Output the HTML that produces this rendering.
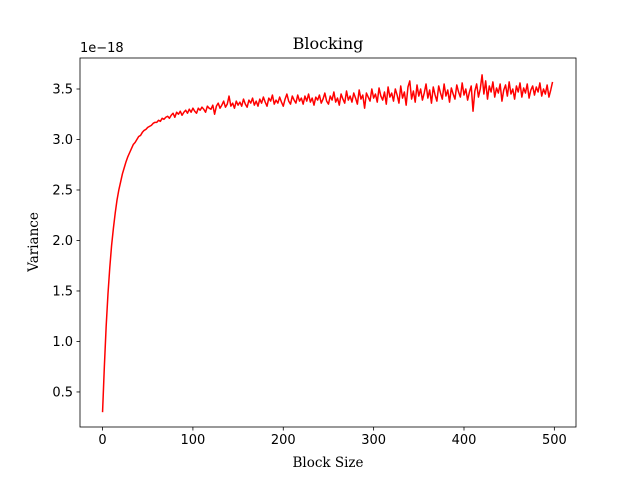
<!DOCTYPE html>
<html><head><meta charset="utf-8"><style>
html,body{margin:0;padding:0;background:#fff}
svg{display:block}
.tick{font-family:"DejaVu Sans","Liberation Sans",sans-serif;font-size:13px;fill:#000}
.lab{font-family:"DejaVu Serif","Liberation Serif",serif;font-size:13.5px;fill:#000}
</style></head><body>
<svg id="chart" width="640" height="480" viewBox="0 0 640 480">
<rect x="0" y="0" width="640" height="480" fill="#fff"/>
<g id="plot"></g>
<text class="lab" x="328" y="49" text-anchor="middle" style="font-size:16px">Blocking</text>
<text class="lab" x="328" y="467" text-anchor="middle">Block Size</text>
<text class="lab" transform="translate(38,242) rotate(-90)" text-anchor="middle">Variance</text>
<text class="tick" x="80" y="52">1e−18</text>
</svg>
<script>
const xStep = 2;
const variance = [
0.30,0.75,1.15,1.47,1.73,1.95,2.12,2.27,2.40,2.50,2.58,2.66,2.72,2.78,2.83,2.87,2.91,2.95,2.97,3.00,3.03,3.04,3.07,3.09,3.10,3.12,3.13,3.14,3.16,3.17,
3.17,3.19,3.18,3.21,3.20,3.22,3.23,3.21,3.24,3.26,3.22,3.27,3.25,3.28,3.24,3.27,3.29,3.26,3.30,3.27,3.31,3.28,3.26,3.31,3.29,3.32,3.30,3.27,3.33,3.31,
3.30,3.34,3.25,3.33,3.36,3.31,3.34,3.38,3.32,3.35,3.43,3.33,3.36,3.31,3.38,3.34,3.37,3.33,3.40,3.35,3.32,3.39,3.36,3.41,3.34,3.38,3.33,3.40,3.36,3.42,
3.37,3.33,3.41,3.38,3.44,3.35,3.39,3.36,3.42,3.37,3.33,3.40,3.45,3.38,3.35,3.43,3.39,3.36,3.44,3.38,3.41,3.35,3.43,3.38,3.45,3.37,3.41,3.34,3.42,3.39,
3.44,3.36,3.40,3.46,3.38,3.35,3.43,3.39,3.47,3.37,3.41,3.34,3.45,3.40,3.36,3.48,3.39,3.43,3.37,3.46,3.41,3.35,3.49,3.40,3.44,3.31,3.46,3.42,3.38,3.50,
3.41,3.45,3.37,3.51,3.43,3.39,3.47,3.35,3.52,3.42,3.46,3.38,3.50,3.44,3.36,3.53,3.41,3.47,3.34,3.52,3.58,3.40,3.48,3.37,3.54,3.43,3.50,3.39,3.46,3.55,
3.41,3.49,3.36,3.52,3.44,3.38,3.53,3.46,3.40,3.55,3.43,3.49,3.37,3.51,3.45,3.40,3.54,3.47,3.42,3.56,3.44,3.50,3.39,3.47,3.53,3.28,3.48,3.55,3.42,3.50,
3.64,3.45,3.58,3.40,3.53,3.47,3.57,3.42,3.51,3.46,3.55,3.38,3.49,3.54,3.43,3.57,3.45,3.50,3.40,3.53,3.47,3.56,3.42,3.51,3.46,3.55,3.41,3.49,3.53,3.44,3.52,3.47,3.56,3.43,3.50,3.45,3.54,3.42,3.49,3.57
];
const xTicks = [0,100,200,300,400,500];
const yTicks = [0.5,1.0,1.5,2.0,2.5,3.0,3.5];
const yTickLabels = ["0.5","1.0","1.5","2.0","2.5","3.0","3.5"];

const L=80,R=576,T=58,B=427;
const xMin=-24.95,xMax=523.95,yMin=0.153,yMax=3.807;
const sx=v=>L+(v-xMin)/(xMax-xMin)*(R-L);
const sy=v=>B-(v-yMin)/(yMax-yMin)*(B-T);
const NS="http://www.w3.org/2000/svg";
const g=document.getElementById('plot');
function mk(tag,attrs){const e=document.createElementNS(NS,tag);for(const k in attrs)e.setAttribute(k,attrs[k]);g.appendChild(e);return e;}

const pts=variance.map((v,i)=>sx(i*xStep).toFixed(2)+','+sy(v).toFixed(2)).join(' ');
const line=mk('polyline',{points:pts,fill:'none',stroke:'#ff0000','stroke-width':1.5,'stroke-linejoin':'round'});



const frame=mk('rect',{x:L,y:T,width:R-L,height:B-T,fill:'none',stroke:'#000','stroke-width':0.8});



xTicks.forEach(t=>{
  const x=sx(t);
  const tk=mk('line',{x1:x,x2:x,y1:B,y2:B+3.5,stroke:'#000','stroke-width':0.8});
  
  
  const tx=mk('text',{x:x,y:B+17,'text-anchor':'middle',class:'tick'});
  tx.textContent=String(t);
  
  
});
yTicks.forEach((t,i)=>{
  const y=sy(t);
  const tk=mk('line',{x1:L-3.5,x2:L,y1:y,y2:y,stroke:'#000','stroke-width':0.8});
  
  
  const tx=mk('text',{x:L-7,y:y+4.5,'text-anchor':'end',class:'tick'});
  tx.textContent=yTickLabels[i];
  
  
});
</script>
</body></html>
